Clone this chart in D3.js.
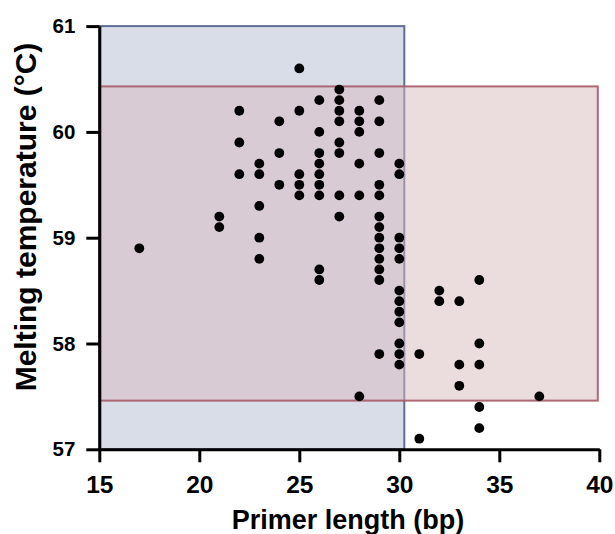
<!DOCTYPE html>
<html>
<head>
<meta charset="utf-8">
<script src="https://cdn.jsdelivr.net/npm/d3@7"></script>
<style>
  html, body { margin: 0; padding: 0; background: #fff; }
  svg { display: block; font-family: "Liberation Sans", Arial, Helvetica, sans-serif; }
</style>
</head>
<body>
<svg id="chart" width="615" height="534"></svg>
<script>
// Primer length (bp) and melting temperature (°C), one entry per primer
const primerLength = [
  17,
  21, 21,
  22, 22, 22,
  23, 23, 23, 23, 23,
  24, 24, 24,
  25, 25, 25, 25, 25,
  26, 26, 26, 26, 26, 26, 26, 26, 26,
  27, 27, 27, 27, 27, 27, 27, 27,
  28, 28, 28, 28, 28, 28,
  29, 29, 29, 29, 29, 29, 29, 29, 29, 29, 29, 29, 29,
  30, 30, 30, 30, 30, 30, 30, 30, 30, 30, 30, 30,
  31, 31,
  32, 32,
  33, 33, 33,
  34, 34, 34, 34, 34,
  37
];
const meltingTemp = [
  58.9,
  59.2, 59.1,
  60.2, 59.9, 59.6,
  59.7, 59.6, 59.3, 59.0, 58.8,
  60.1, 59.8, 59.5,
  60.6, 60.2, 59.6, 59.5, 59.4,
  60.3, 60.0, 59.8, 59.7, 59.6, 59.5, 59.4, 58.7, 58.6,
  60.4, 60.3, 60.2, 60.1, 59.9, 59.8, 59.4, 59.2,
  60.2, 60.1, 60.0, 59.7, 59.4, 57.5,
  60.3, 60.1, 59.8, 59.5, 59.4, 59.2, 59.1, 59.0, 58.9, 58.8, 58.7, 58.6, 57.9,
  59.7, 59.6, 59.0, 58.9, 58.8, 58.5, 58.4, 58.3, 58.2, 58.0, 57.9, 57.8,
  57.9, 57.1,
  58.5, 58.4,
  58.4, 57.8, 57.6,
  58.6, 58.0, 57.8, 57.4, 57.2,
  57.5
];

// Acceptance windows
const lengthWindow = [15, 30.25];   // bp
const tmWindow = [57.46, 60.43];    // °C

// Axis ticks
const xTicks = [15, 20, 25, 30, 35, 40];
const yTicks = [57, 58, 59, 60, 61];

const margin = { left: 99.3, top: 26.1 };
const innerW = 500, innerH = 423.2;

const svg = d3.select("#chart");
const g = svg.append("g").attr("transform", `translate(${margin.left},${margin.top})`);

const x = d3.scaleLinear().domain([15, 40]).range([0, innerW]);
const y = d3.scaleLinear().domain([57, 61]).range([innerH, 0]);

// Length window (blue), spanning the full temperature range
g.append("rect")
  .attr("x", x(lengthWindow[0]))
  .attr("y", y(61))
  .attr("width", x(lengthWindow[1]) - x(lengthWindow[0]))
  .attr("height", y(57) - y(61))
  .attr("fill", "#d9dde8")
  .attr("stroke", "#5f6f93")
  .attr("stroke-width", 2);

// Temperature window (red), spanning the full length range
g.append("rect")
  .attr("x", x(15))
  .attr("y", y(tmWindow[1]))
  .attr("width", x(40) - x(15) - 1.5)
  .attr("height", y(tmWindow[0]) - y(tmWindow[1]))
  .attr("fill", "rgb(215,185,189)")
  .attr("fill-opacity", 0.5)
  .attr("stroke", "#a65a68")
  .attr("stroke-opacity", 0.9)
  .attr("stroke-width", 2);

// Axes
const xAxis = d3.axisBottom(x).tickValues(xTicks).tickFormat(d3.format("d"))
  .tickSize(13).tickSizeOuter(0).tickPadding(13);
const yAxis = d3.axisLeft(y).tickValues(yTicks).tickFormat(d3.format("d"))
  .tickSize(13).tickSizeOuter(0).tickPadding(11);

const gx = g.append("g").attr("transform", `translate(0,${innerH})`).call(xAxis);
const gy = g.append("g").call(yAxis);

[gx, gy].forEach(a => {
  a.select(".domain").attr("stroke", "#000").attr("stroke-width", 3);
  a.selectAll(".tick line").attr("stroke", "#000").attr("stroke-width", 3);
  a.selectAll(".tick text").attr("fill", "#000").attr("font-weight", "bold");
});
gx.selectAll(".tick text").attr("font-size", 24.5);
gy.selectAll(".tick text").attr("font-size", 20.5);

// Points
g.append("g")
  .selectAll("circle")
  .data(primerLength.map((d, i) => [d, meltingTemp[i]]))
  .join("circle")
  .attr("cx", d => x(d[0]))
  .attr("cy", d => y(d[1]))
  .attr("r", 4.9)
  .attr("fill", "#000");

// Axis titles
svg.append("text")
  .attr("x", 348)
  .attr("y", 528.5)
  .attr("text-anchor", "middle")
  .attr("font-size", 27)
  .attr("font-weight", "bold")
  .text("Primer length (bp)");

svg.append("text")
  .attr("transform", "translate(36,217) rotate(-90)")
  .attr("text-anchor", "middle")
  .attr("font-size", 30)
  .attr("font-weight", "bold")
  .text("Melting temperature (°C)");
</script>
</body>
</html>
